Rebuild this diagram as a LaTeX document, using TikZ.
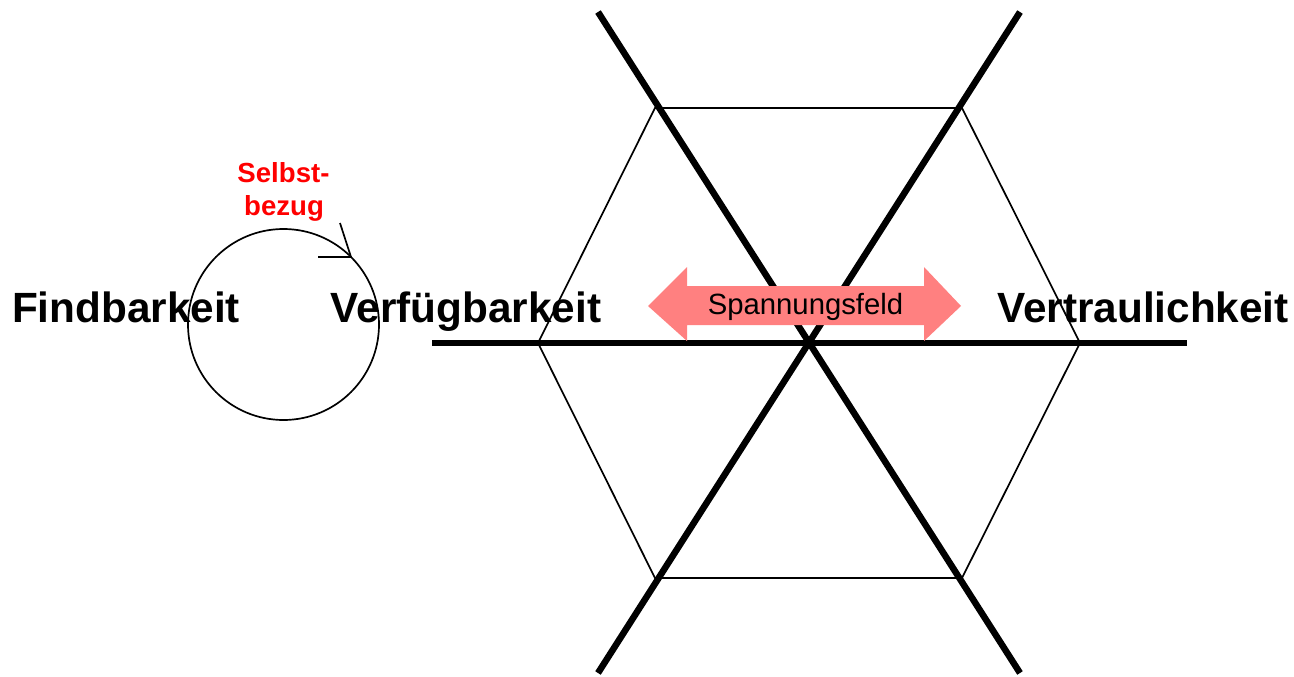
\documentclass[tikz,border=0pt]{standalone}
\usepackage{fontspec}
\setmainfont{Liberation Sans}
\definecolor{pinkarrow}{RGB}{255,128,128}
\definecolor{selfred}{RGB}{255,0,0}
\tikzset{
  biglabel/.style={font=\bfseries\fontsize{42.3}{50}\selectfont, inner sep=0pt, anchor=base},
  redlabel/.style={font=\bfseries\fontsize{27.6}{33}\selectfont, text=selfred, inner sep=0pt, anchor=base},
  thickline/.style={line width=6.5pt},
  thinline/.style={line width=1.7pt},
}
\begin{document}
\begin{tikzpicture}[x=1pt,y=-1pt]
\useasboundingbox (0,0) rectangle (1294,677);
% hexagon vertices
\coordinate (h1) at (655,108);
\coordinate (h2) at (962,108);
\coordinate (h3) at (1080,343);
\coordinate (h4) at (962,578);
\coordinate (h5) at (655,578);
\coordinate (h6) at (538,343);
\draw[thinline, line join=miter] (h1) -- (h2) -- (h3) -- (h4) -- (h5) -- (h6) -- cycle;
% thick axes
\coordinate (a1) at (598,12);
\coordinate (a2) at (1020,673);
\coordinate (b1) at (1020,12);
\coordinate (b2) at (598,673);
\coordinate (c1) at (432,343);
\coordinate (c2) at (1187,343);
\draw[thickline] (a1) -- (a2);
\draw[thickline] (b1) -- (b2);
\draw[thickline] (c1) -- (c2);
% double arrow
\fill[pinkarrow] (648,306) -- (687,267) -- (687,286) -- (924,286) -- (924,267)
  -- (961,306) -- (924,341) -- (924,325) -- (687,325) -- (687,341) -- cycle;
\node[inner sep=0pt, anchor=base, font=\fontsize{29.3}{35}\selectfont] (spann) at (805.5,314) {Spannungsfeld};
% circle with arrow
\node[draw, circle, thinline, minimum size=191pt, inner sep=0pt] (loop) at (283.5,324.5) {};
\coordinate (tip) at (351,257);
\coordinate (barb1) at (318,257);
\coordinate (barb2) at (340,223);
\draw[thinline] (barb1) -- (tip) -- (barb2);
% labels
\node[biglabel] (find) at (126,322) {Findbarkeit};
\node[biglabel] (verf) at (466,322) {Verfügbarkeit};
\node[biglabel] (vert) at (1143,322) {Vertraulichkeit};
\node[redlabel] (selbst) at (283.5,182) {Selbst-};
\node[redlabel] (bezug) at (284,215) {bezug};
\end{tikzpicture}
\end{document}
